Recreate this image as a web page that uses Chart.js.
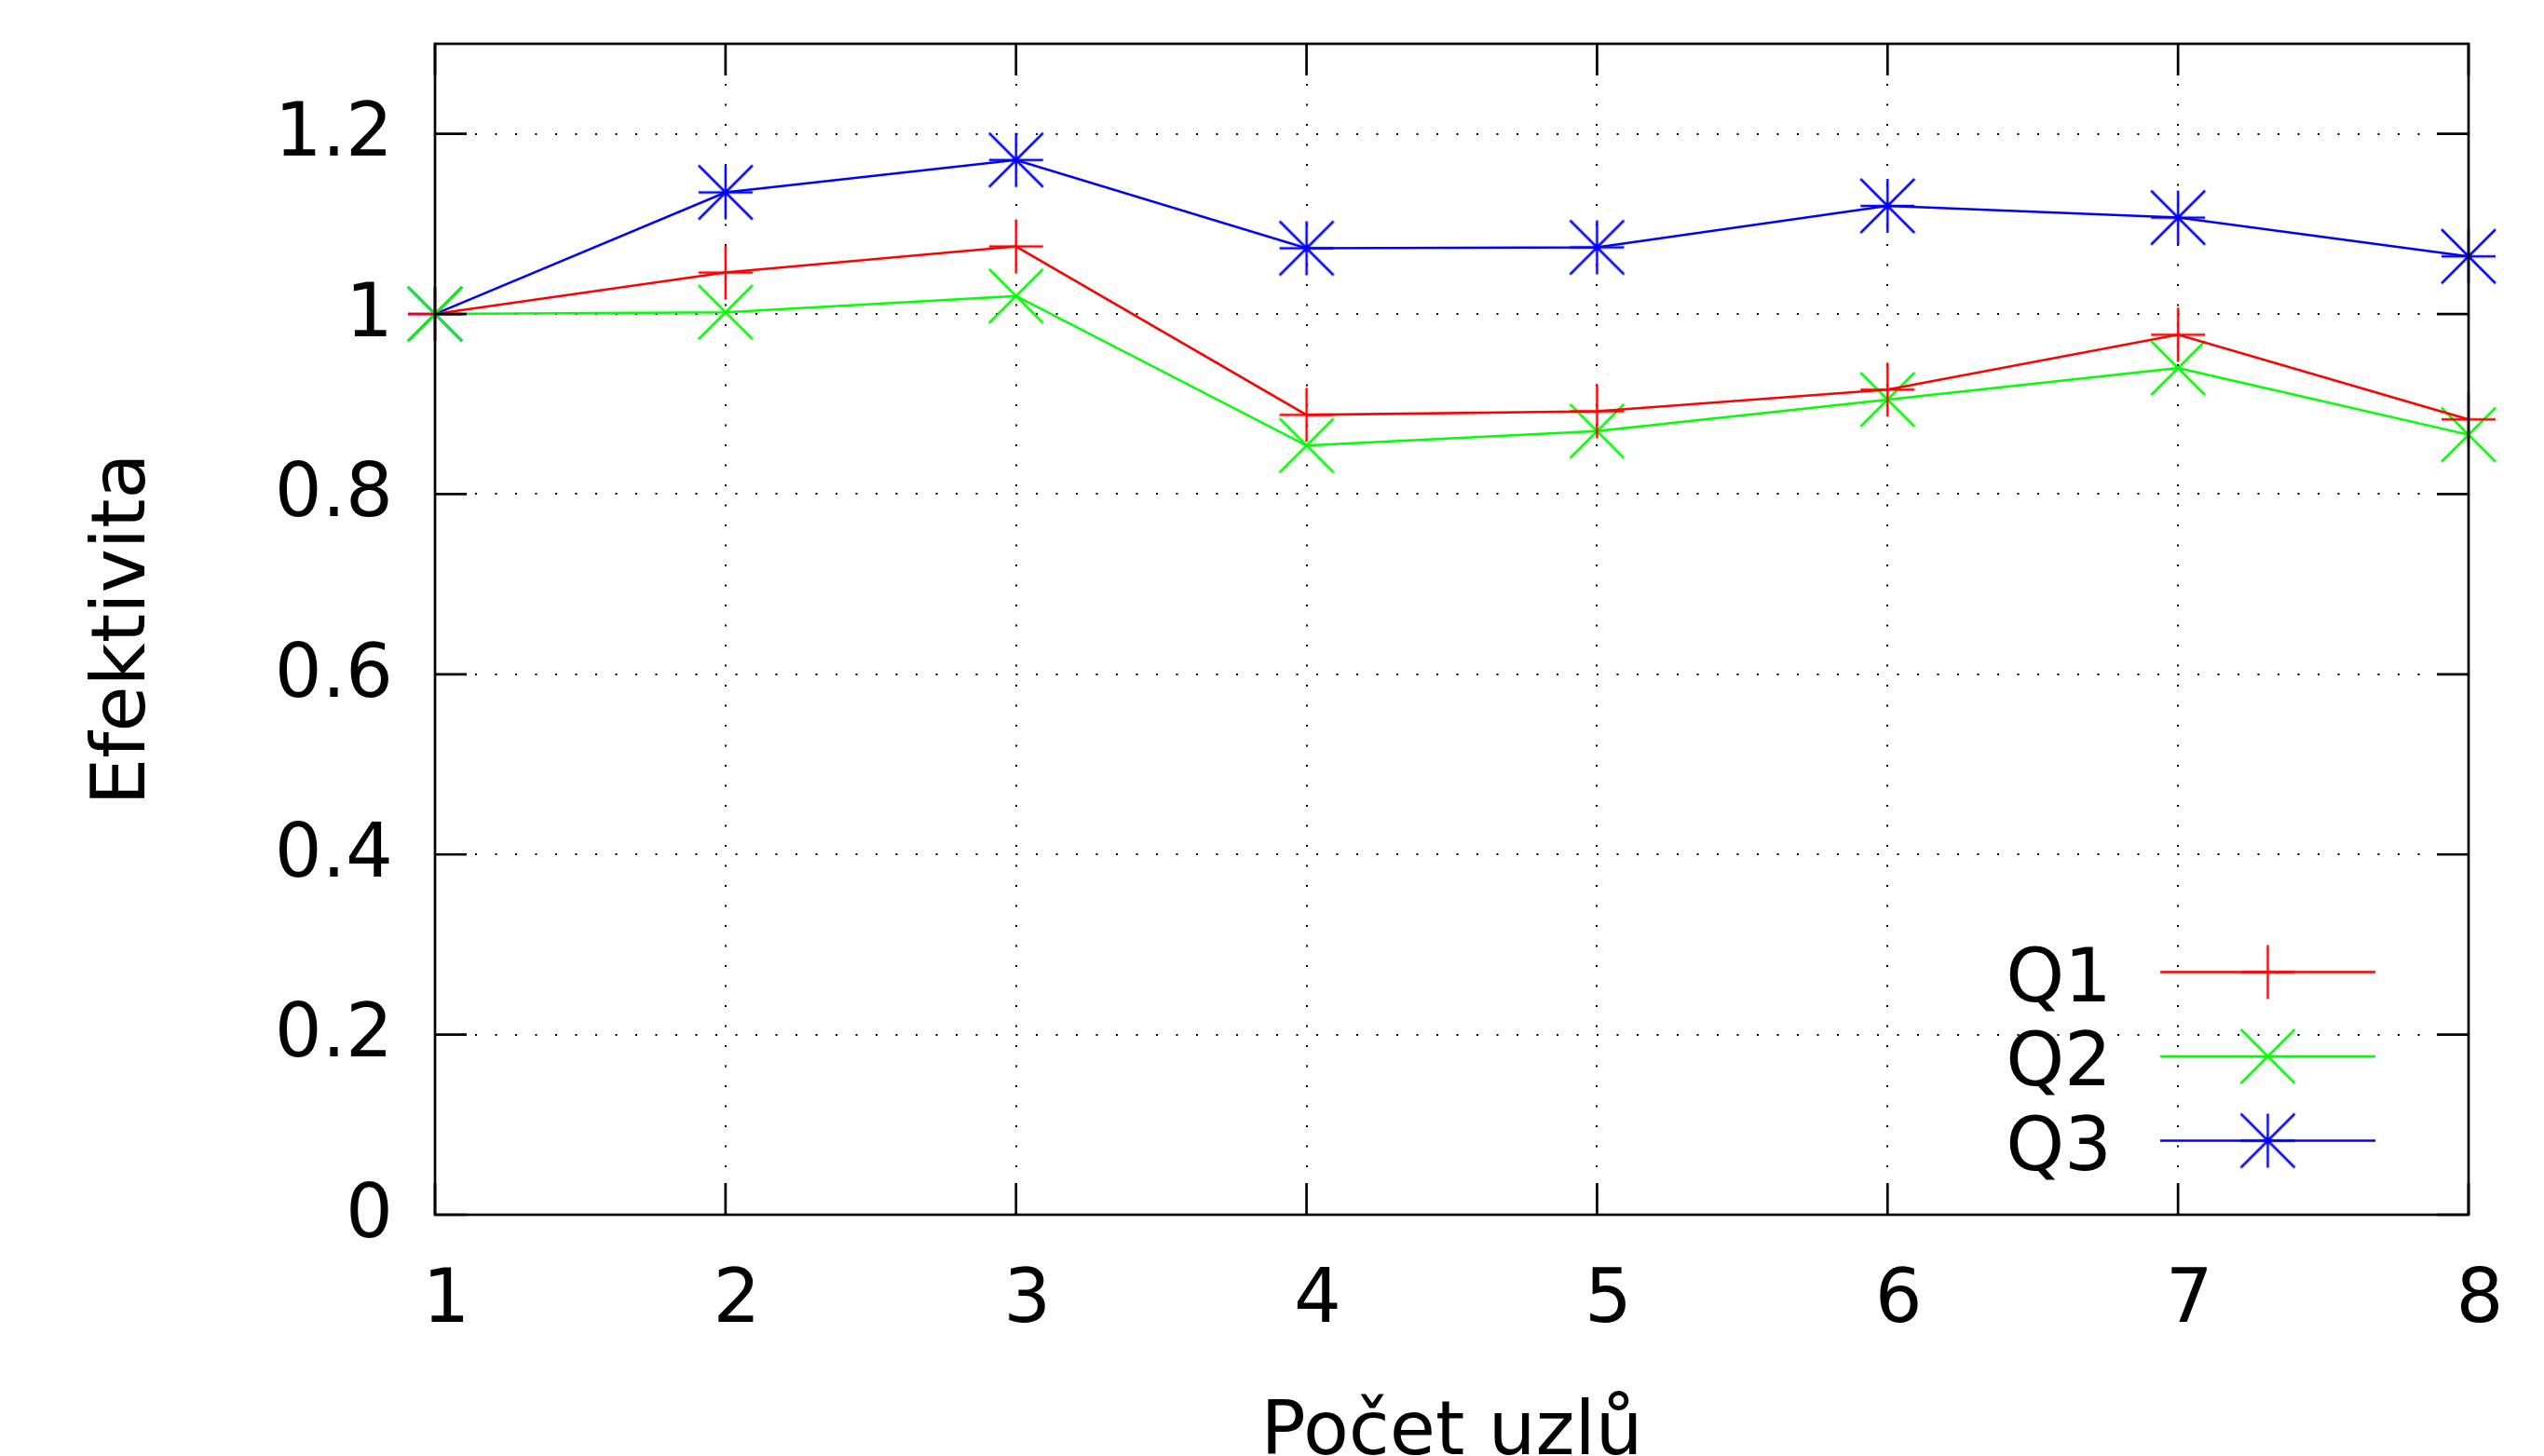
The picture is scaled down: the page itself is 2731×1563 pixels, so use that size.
<!DOCTYPE html>
<html>
<head>
<meta charset="utf-8">
<title>Efektivita</title>
<script src="https://cdn.jsdelivr.net/npm/chart.js@4.4.1/dist/chart.umd.min.js"></script>
<style>
  html, body { margin: 0; padding: 0; background: #fff; }
  #wrap { width: 2731px; height: 1563px; }
</style>
</head>
<body>
<div id="wrap"><canvas id="chart"></canvas></div>
<script>
// values
const nodes = [1, 2, 3, 4, 5, 6, 7, 8];
const q1 = [1.0, 1.046, 1.075, 0.888, 0.892, 0.916, 0.977, 0.883];
const q2 = [1.0, 1.002, 1.020, 0.854, 0.870, 0.905, 0.940, 0.866];
const q3 = [1.0, 1.135, 1.171, 1.073, 1.074, 1.120, 1.107, 1.064];
const seriesNames = ["Q1", "Q2", "Q3"];
const seriesColors = ["#ff0000", "#00ff00", "#0000ff"];
const seriesMarkers = ["plus", "cross", "star"];

const FONT = "DejaVu Sans";
const TICK_LEN = 34;

// gnuplot style point markers (+, x, *)
function makeMarker(shape, color) {
    const r = 29;
    const c = document.createElement("canvas");
    c.width = c.height = 2 * r + 4;
    const ctx = c.getContext("2d");
    ctx.strokeStyle = color;
    ctx.lineWidth = 2.5;
    ctx.translate(c.width / 2, c.height / 2);
    ctx.beginPath();
    if (shape === "plus" || shape === "star") {
        ctx.moveTo(-r, 0); ctx.lineTo(r, 0);
        ctx.moveTo(0, -r); ctx.lineTo(0, r);
    }
    if (shape === "cross" || shape === "star") {
        ctx.moveTo(-r, -r); ctx.lineTo(r, r);
        ctx.moveTo(-r, r); ctx.lineTo(r, -r);
    }
    ctx.stroke();
    return c;
}

function toPoints(values) {
    return nodes.map((n, i) => ({ x: n, y: values[i] }));
}

const datasets = [q1, q2, q3].map((values, i) => ({
    label: seriesNames[i],
    data: toPoints(values),
    borderColor: seriesColors[i],
    backgroundColor: seriesColors[i],
    borderWidth: 2.5,
    tension: 0,
    pointStyle: makeMarker(seriesMarkers[i], seriesColors[i]),
    pointRadius: 29,
    clip: false
}));

// border with inward ticks on all four sides
const framePlugin = {
    id: "frame",
    afterDatasetsDraw(chart) {
        const { ctx, chartArea: a, scales } = chart;
        ctx.save();
        ctx.strokeStyle = "#000";
        ctx.lineWidth = 2.7;
        ctx.beginPath();
        scales.y.ticks.forEach(t => {
            const py = scales.y.getPixelForValue(t.value);
            ctx.moveTo(a.left, py); ctx.lineTo(a.left + TICK_LEN, py);
            ctx.moveTo(a.right, py); ctx.lineTo(a.right - TICK_LEN, py);
        });
        scales.x.ticks.forEach(t => {
            const px = scales.x.getPixelForValue(t.value);
            ctx.moveTo(px, a.bottom); ctx.lineTo(px, a.bottom - TICK_LEN);
            ctx.moveTo(px, a.top); ctx.lineTo(px, a.top + TICK_LEN);
        });
        ctx.stroke();
        ctx.strokeRect(a.left, a.top, a.width, a.height);
        ctx.restore();
    }
};

// key in the lower right corner, text left of the sample line
const keyPlugin = {
    id: "key",
    afterDraw(chart) {
        const { ctx, chartArea: a } = chart;
        ctx.save();
        ctx.font = "80px '" + FONT + "'";
        ctx.fillStyle = "#000";
        ctx.textAlign = "right";
        ctx.textBaseline = "alphabetic";
        chart.data.datasets.forEach((ds, i) => {
            const y = a.bottom - 260.5 + i * 90.5;
            const x0 = a.right - 331;
            const x1 = a.right - 100;
            ctx.fillText(ds.label, a.right - 383, y + 31);
            ctx.strokeStyle = ds.borderColor;
            ctx.lineWidth = ds.borderWidth;
            ctx.beginPath();
            ctx.moveTo(x0, y);
            ctx.lineTo(x1, y);
            ctx.stroke();
            const m = ds.pointStyle;
            ctx.drawImage(m, (x0 + x1) / 2 - m.width / 2, y - m.height / 2);
        });
        ctx.restore();
    }
};

Chart.defaults.font.family = FONT;
Chart.defaults.color = "#000";

new Chart(document.getElementById("chart"), {
    type: "line",
    data: { datasets },
    options: {
        responsive: true,
        maintainAspectRatio: false,
        devicePixelRatio: 1,
        animation: false,
        events: [],
        layout: { padding: { top: 47, right: 81, bottom: 0, left: 0 } },
        plugins: {
            legend: { display: false },
            tooltip: { enabled: false }
        },
        scales: {
            x: {
                type: "linear",
                min: 1,
                max: 8,
                afterFit(scale) {
                    scale.height = 259;
                    scale.paddingLeft = 0;
                    scale.paddingRight = 0;
                },
                ticks: {
                    stepSize: 1,
                    padding: 46,
                    labelOffset: 12,
                    font: { size: 80 },
                    callback: v => String(v)
                },
                grid: { color: "#000", lineWidth: 2, drawTicks: false },
                border: { display: false, dash: [2, 19.5] },
                title: {
                    display: true,
                    text: "Počet uzlů",
                    font: { size: 80, lineHeight: 1 },
                    padding: { top: 0, bottom: -17 }
                }
            },
            y: {
                min: 0,
                max: 1.3,
                afterFit(scale) {
                    scale.width = 467;
                    scale.paddingTop = 0;
                    scale.paddingBottom = 0;
                },
                ticks: {
                    stepSize: 0.2,
                    includeBounds: false,
                    padding: 45,
                    labelOffset: 3,
                    font: { size: 80 },
                    callback: v => String(+v.toFixed(1))
                },
                grid: { color: "#000", lineWidth: 2, drawTicks: false },
                border: { display: false, dash: [2, 19.5] },
                title: {
                    display: true,
                    text: "Efektivita",
                    font: { size: 80, lineHeight: 1 },
                    padding: { top: 94, bottom: 0 }
                }
            }
        }
    },
    plugins: [framePlugin, keyPlugin]
});
</script>
</body>
</html>
